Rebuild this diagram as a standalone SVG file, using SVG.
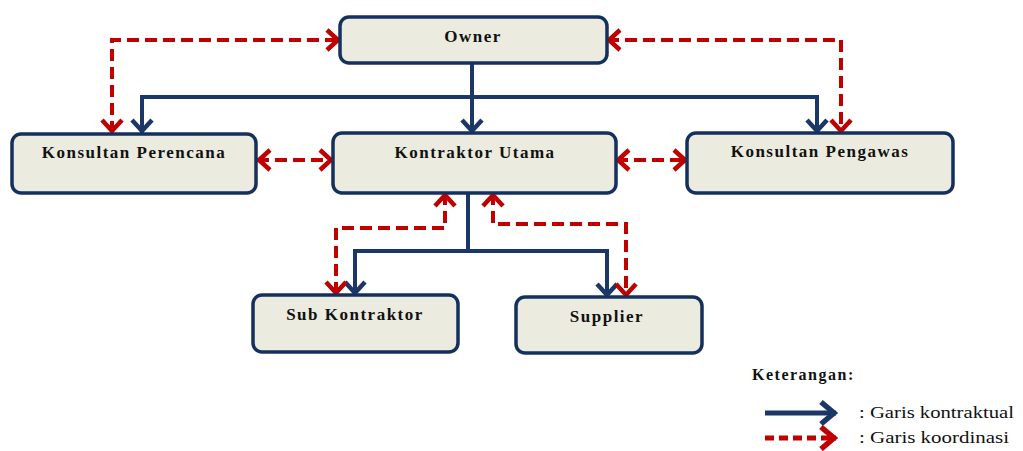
<svg xmlns="http://www.w3.org/2000/svg" width="1023" height="451" viewBox="0 0 1023 451">
<style>
.box{fill:#ebebdf;stroke:#14305e;stroke-width:3.5}
.lbl{font-family:"Liberation Serif","Times New Roman",serif;font-weight:bold;font-size:17px;letter-spacing:1.5px;fill:#111;text-anchor:middle}
.ct{fill:none;stroke:#1b3768;stroke-width:4}
.co{fill:none;stroke:#c00000;stroke-width:4;stroke-dasharray:12 6}
.lg{font-family:"Liberation Serif","Times New Roman",serif;font-size:16px;fill:#111}
</style>
<defs>
<marker id="ab" markerUnits="userSpaceOnUse" markerWidth="30" markerHeight="30" viewBox="-15 -15 30 30" refX="0" refY="0" orient="auto-start-reverse">
<path d="M-13,-10 L-2,0 L-13,10" fill="none" stroke="#1b3768" stroke-width="4.5"/>
</marker>
<marker id="ar" markerUnits="userSpaceOnUse" markerWidth="30" markerHeight="30" viewBox="-15 -15 30 30" refX="0" refY="0" orient="auto-start-reverse">
<path d="M-13,-10 L-2,0 L-13,10" fill="none" stroke="#c00000" stroke-width="4.5"/>
</marker>
<marker id="lb" markerUnits="userSpaceOnUse" markerWidth="36" markerHeight="36" viewBox="-18 -18 36 36" refX="0" refY="0" orient="auto">
<path d="M-15,-11 L-2,0 L-15,11" fill="none" stroke="#1b3768" stroke-width="5.5"/>
</marker>
<marker id="lr" markerUnits="userSpaceOnUse" markerWidth="36" markerHeight="36" viewBox="-18 -18 36 36" refX="0" refY="0" orient="auto">
<path d="M-15,-11 L-2,0 L-15,11" fill="none" stroke="#c00000" stroke-width="5.5"/>
</marker>
</defs>
<rect width="1023" height="451" fill="#ffffff"/>
<g id="connectors">
<path class="ct" d="M472,63 V133" marker-end="url(#ab)"/>
<path class="ct" d="M142,133 V97 H817 V133" marker-start="url(#ab)" marker-end="url(#ab)"/>
<path class="ct" d="M468,193 V251"/>
<path class="ct" d="M355,295 V251 H607 V297" marker-start="url(#ab)" marker-end="url(#ab)"/>
<path class="co" d="M112,133 V40 H340" marker-start="url(#ar)" marker-end="url(#ar)"/>
<path class="co" d="M607,40 H841 V133" marker-start="url(#ar)" marker-end="url(#ar)"/>
<path class="co" d="M257,160 H333" marker-start="url(#ar)" marker-end="url(#ar)"/>
<path class="co" d="M616,160 H687" marker-start="url(#ar)" marker-end="url(#ar)"/>
<path class="co" d="M445,193 V228 H336 V295" marker-start="url(#ar)" marker-end="url(#ar)"/>
<path class="co" d="M493,193 V224 H626 V297" marker-start="url(#ar)" marker-end="url(#ar)"/>
</g>
<g id="owner"><rect class="box" x="340" y="17" width="267" height="46" rx="9"/><text class="lbl" x="473" y="42">Owner</text></g>
<g id="konsultan-perencana"><rect class="box" x="12" y="134" width="244" height="59" rx="9"/><text class="lbl" x="134" y="158">Konsultan Perencana</text></g>
<g id="kontraktor-utama"><rect class="box" x="333" y="133" width="283" height="60" rx="9"/><text class="lbl" x="475" y="158">Kontraktor Utama</text></g>
<g id="konsultan-pengawas"><rect class="box" x="687" y="133" width="266" height="60" rx="9"/><text class="lbl" x="820" y="157">Konsultan Pengawas</text></g>
<g id="sub-kontraktor"><rect class="box" x="253" y="295" width="205" height="57" rx="9"/><text class="lbl" x="355" y="320">Sub Kontraktor</text></g>
<g id="supplier"><rect class="box" x="516" y="297" width="186" height="56" rx="9"/><text class="lbl" x="607" y="322">Supplier</text></g>
<g id="legend">
<text class="lbl" x="752" y="380" style="text-anchor:start;font-size:16px">Keterangan:</text>
<path d="M765,413 H836" fill="none" stroke="#1b3768" stroke-width="5" marker-end="url(#lb)"/>
<path d="M765,438 H836" fill="none" stroke="#c00000" stroke-width="5" stroke-dasharray="9 5" marker-end="url(#lr)"/>
<text class="lg" x="859" y="418" textLength="155" lengthAdjust="spacingAndGlyphs">: Garis kontraktual</text>
<text class="lg" x="859" y="443" textLength="150" lengthAdjust="spacingAndGlyphs">: Garis koordinasi</text>
</g>
</svg>
